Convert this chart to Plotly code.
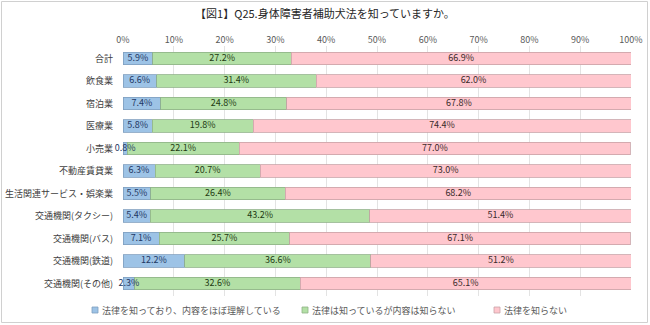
import plotly.graph_objects as go

categories = ["合計", "飲食業", "宿泊業", "医療業", "小売業", "不動産賃貸業",
              "生活関連サービス・娯楽業", "交通機関(タクシー)", "交通機関(バス)",
              "交通機関(鉄道)", "交通機関(その他)"]
understand = [5.9, 6.6, 7.4, 5.8, 0.8, 6.3, 5.5, 5.4, 7.1, 12.2, 2.3]
know_only = [27.2, 31.4, 24.8, 19.8, 22.1, 20.7, 26.4, 43.2, 25.7, 36.6, 32.6]
unknown = [66.9, 62.0, 67.8, 74.4, 77.0, 73.0, 68.2, 51.4, 67.1, 51.2, 65.1]
series_names = ["法律を知っており、内容をほぼ理解している", "法律は知っているが内容は知らない", "法律を知らない"]
tick_vals = [0, 10, 20, 30, 40, 50, 60, 70, 80, 90, 100]
tick_text = [f"{v}%" for v in tick_vals]

FONT = "Noto Sans CJK JP"
fills = ["#9dc3e6", "#b3e0a6", "#ffc7ce"]
edges = ["#7f9fbf", "#8fb287", "#c9a3a8"]
text_colors = ["#1f3864", "#1e3a12", "#3a2a2a"]

fig = go.Figure()
series = [understand, know_only, unknown]
for name, vals, fc, ec in zip(series_names, series, fills, edges):
    fig.add_trace(go.Bar(
        y=categories, x=vals, name=name, orientation="h",
        marker=dict(color=fc, line=dict(color=ec, width=0.8)),
        hoverinfo="skip", showlegend=False,
    ))

# Value labels centred on each segment (may overflow narrow segments)
base = [0.0] * len(categories)
for vals, tc in zip(series, text_colors):
    mids = [b + v / 2 for b, v in zip(base, vals)]
    fig.add_trace(go.Scatter(
        y=categories, x=mids, mode="text",
        text=[f"{v:.1f}%" for v in vals],
        textfont=dict(family=FONT, size=9, color=tc),
        showlegend=False, hoverinfo="skip", cliponaxis=False,
    ))
    base = [b + v for b, v in zip(base, vals)]

L, R, T, B = 123, 19, 46, 29
W, H = 650, 325
pw, ph = W - L - R, H - T - B


def px_x(p):
    return (p - L) / pw


def px_y(p):
    return (T + ph - p) / ph


# Compact one-line legend: small swatch followed by the series name
legend_x = [95, 305, 497]
legend_y = 310
shapes = [dict(type="rect", xref="paper", yref="paper",
               x0=px_x(1.5), x1=px_x(W - 2.5), y0=px_y(H - 2.5), y1=px_y(1.5),
               line=dict(color="#d0d0d0", width=1), layer="below")]
annotations = []
for lx, name, fc, ec in zip(legend_x, series_names, fills, edges):
    shapes.append(dict(type="rect", xref="paper", yref="paper",
                       x0=px_x(lx - 3), x1=px_x(lx + 3),
                       y0=px_y(legend_y + 3), y1=px_y(legend_y - 3),
                       fillcolor=fc, line=dict(color=ec, width=0.8)))
    annotations.append(dict(xref="paper", yref="paper", x=px_x(lx + 5), y=px_y(legend_y),
                            xanchor="left", yanchor="middle", showarrow=False,
                            text=name, font=dict(family=FONT, size=9, color="#595959")))

fig.update_layout(
    width=W, height=H,
    barmode="stack", bargap=0.44,
    margin=dict(l=L, r=R, t=T, b=B, autoexpand=False),
    paper_bgcolor="white", plot_bgcolor="white",
    font=dict(family=FONT, size=9, color="#404040"),
    title=dict(text="【図1】Q25.身体障害者補助犬法を知っていますか。",
               x=0.5, xanchor="center", y=1 - 14 / H, yanchor="middle",
               font=dict(family=FONT, size=11, color="#262626")),
    xaxis=dict(side="top", range=[0, 100], tickvals=tick_vals, ticktext=tick_text,
               showgrid=True, gridcolor="#e3e3e3", gridwidth=1, zeroline=False,
               showline=False, ticks="", tickfont=dict(size=9, color="#595959")),
    yaxis=dict(autorange="reversed", showgrid=False, ticks="", showline=False,
               ticklabelstandoff=9, tickfont=dict(size=9, color="#404040")),
    showlegend=False,
    shapes=shapes,
    annotations=annotations,
)

fig.write_html("out.html")
